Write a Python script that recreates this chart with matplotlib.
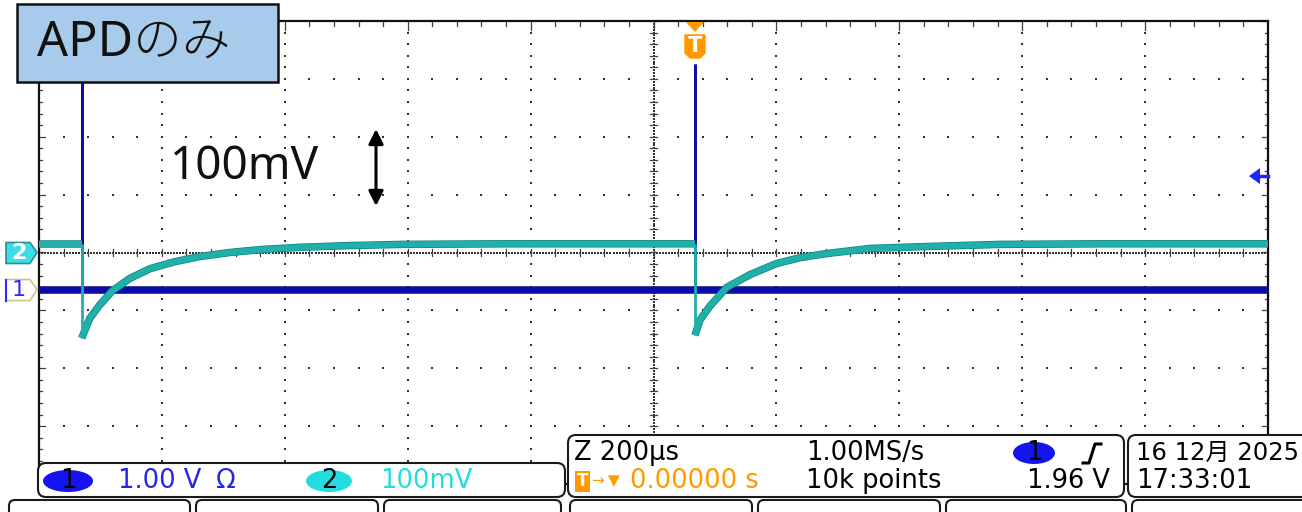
import numpy as np
import matplotlib
matplotlib.use("Agg")
import matplotlib.pyplot as plt
from matplotlib.patches import Rectangle, FancyBboxPatch, Polygon, Ellipse
import matplotlib.patheffects as pe

plt.rcParams['font.family'] = ['DejaVu Sans', 'Noto Sans CJK JP']

# ---------------- data ----------------
# time axis in microseconds (200 us/div), trigger at t = 0
screen_t_start = -1067.5
screen_t_end = 932.5
time_per_div = 200

# channel 2 (100 mV/div, position 0 div) -- values in mV
ch2_scale_mv = 100
ch2_pos_div = 0.0
ch2_base_mv = 15
ch2_ev1_t = [-998, -985, -969, -948, -920, -887, -847, -806, -757, -708, -643, -562, -477, -314]
ch2_ev1_mv = [-148, -114, -91, -66, -45, -28, -16, -7, 0, 5, 9, 12, 14, 15]
ch2_ev2_t = [0, 8, 24, 52, 90, 133, 171, 213, 285, 366, 496, 659]
ch2_ev2_mv = [-143, -117, -93, -60, -38, -19, -9, -2, 7, 10, 14, 15]

# channel 1 (1.00 V/div, position -0.64 div) -- values in V
ch1_scale_v = 1.0
ch1_pos_div = -0.64
ch1_t = [-1068, -998, -998, -998, 0, 0, 0, 933]
ch1_v = [0, 0, 3.9, 0, 0, 3.9, 0, 0]
trig_level_v = 1.96

# status texts
label_text = "APDのみ"
scale_text = "100mV"
ch1_text = "1.00 V"
ch2_text = "100mV"
timebase_text = "Z 200µs"
rate_text = "1.00MS/s"
delay_text = "0.00000 s"
points_text = "10k points"
trig_text = "1.96 V"
date_text = "16 12月 2025"
clock_text = "17:33:01"

# ---------------- figure ----------------
W, H = 1302, 512
fig = plt.figure(figsize=(W / 100, H / 100), dpi=100)
gl, gr, gt, gb = 39, 1268, 21, 484
ax = fig.add_axes([gl / W, 1 - gb / H, (gr - gl) / W, (gb - gt) / H])
ax.set_xlim(screen_t_start, screen_t_end)
ax.set_ylim(-4, 4)
ax.set_xticks([]); ax.set_yticks([])
for s in ax.spines.values():
    s.set_linewidth(1.6); s.set_color('#111111')

# ---------------- graticule ----------------
dot_kw = dict(ls='none', marker='s', ms=1.7, mew=0, color='#333333', zorder=1)
X0, X1 = screen_t_start, screen_t_end
xd = (X1 - X0) / 10
for k in range(1, 10):
    if k == 5:
        continue
    xm = X0 + k * xd
    ys = np.arange(-4, 4.001, 0.2)
    ax.plot(np.full_like(ys, xm), ys, **dot_kw)
for k in range(-3, 4):
    if k == 0:
        continue
    xs = np.arange(X0, X1 + 0.1, xd / 5)
    ax.plot(xs, np.full_like(xs, k), **dot_kw)
# centre cross-hair
xc = X0 + 5 * xd
ys = np.arange(-4, 4.001, 0.05)
ax.plot(np.full_like(ys, xc), ys, **dot_kw)
xs = np.arange(X0, X1 + 0.1, xd / 40)
ax.plot(xs, np.zeros_like(xs), **dot_kw)
tick_kw = dict(color='#404040', lw=0.9, zorder=1)
for yv in np.arange(-4, 4.001, 0.2):
    ax.plot([xc - 5, xc + 5], [yv, yv], **tick_kw)
for xv in np.arange(X0, X1 + 0.1, xd / 5):
    ax.plot([xv, xv], [-0.06, 0.06], **tick_kw)
# edge ticks
for yv in np.arange(-4, 4.001, 0.2):
    L = 10 if abs(yv - round(yv)) < 1e-6 else 5
    ax.plot([X0, X0 + L], [yv, yv], **tick_kw)
    ax.plot([X1 - L, X1], [yv, yv], **tick_kw)
for xv in np.arange(X0, X1 + 0.1, xd / 5):
    L = 0.15 if abs(((xv - X0) / xd) - round((xv - X0) / xd)) < 1e-6 else 0.08
    ax.plot([xv, xv], [4 - L, 4], **tick_kw)
    ax.plot([xv, xv], [-4, -4 + L], **tick_kw)


def draw_trace(t, y, color, edge, lw_band, lw_thin, z):
    t = np.asarray(t, float); y = np.asarray(y, float)
    runs = []
    cur_t, cur_y = [t[0]], [y[0]]
    for i in range(1, len(t)):
        if t[i] == t[i - 1]:
            ax.plot([t[i - 1], t[i]], [y[i - 1], y[i]], color=color, lw=lw_thin,
                    solid_capstyle='butt', zorder=z + 1)
            if len(cur_t) > 1:
                runs.append((cur_t, cur_y))
            cur_t, cur_y = [t[i]], [y[i]]
        else:
            cur_t.append(t[i]); cur_y.append(y[i])
    if len(cur_t) > 1:
        runs.append((cur_t, cur_y))
    for rt, ry in runs:
        ax.plot(rt, ry, color=color, lw=lw_band, solid_capstyle='butt', zorder=z,
                path_effects=[pe.Stroke(linewidth=lw_band + 1.0, foreground=edge), pe.Normal()])


ch1_div = np.asarray(ch1_v) / ch1_scale_v + ch1_pos_div
ch2_t = [screen_t_start, ch2_ev1_t[0]] + ch2_ev1_t + [ch2_ev2_t[0]] + ch2_ev2_t + [screen_t_end]
ch2_mv = [ch2_base_mv, ch2_base_mv] + ch2_ev1_mv + [ch2_base_mv] + ch2_ev2_mv + [ch2_base_mv]
ch2_div = np.asarray(ch2_mv) / ch2_scale_mv + ch2_pos_div

draw_trace(ch1_t, ch1_div, '#0c0ca8', '#08087e', 4.4, 2.0, 3)
draw_trace(ch2_t, ch2_div, '#1fb0aa', '#12807b', 4.4, 2.0, 5)

# ---------------- overlay in pixel coordinates ----------------
ov = fig.add_axes([0, 0, 1, 1])
ov.set_xlim(0, W); ov.set_ylim(H, 0)
ov.axis('off'); ov.patch.set_alpha(0)


def to_px(x, y):
    dx, dy = ax.transData.transform((x, y))
    return dx, H - dy


big_font = ['Noto Sans', 'Noto Sans CJK JP']
# label box
ov.add_patch(Rectangle((17, 4), 261, 78, fc='#a9cbeb', ec='#111111', lw=1.8, zorder=10))
ov.text(37, 44, label_text, fontsize=35, family=big_font, fontweight='light',
        va='center', ha='left', color='#111111', zorder=11)
ov.text(170, 167, scale_text, fontsize=33, family=big_font, fontweight='light',
        va='center', ha='left', color='#111111', zorder=11)
ov.annotate('', xy=(376, 129), xytext=(376, 206),
            arrowprops=dict(arrowstyle='<|-|>', lw=2.2, color='black', mutation_scale=22,
                            shrinkA=0, shrinkB=0))

# trigger marker
tx, _ = to_px(0, 0)
ov.add_patch(Polygon([(tx - 9, 22), (tx + 9, 22), (tx, 32)], closed=True, fc='#ff9900', ec='none', zorder=10))
ov.add_patch(Polygon([(tx - 10, 35), (tx + 10, 35), (tx + 10, 53), (tx + 5, 58), (tx - 5, 58), (tx - 10, 53)],
                     closed=True, fc='#ff9900', ec='#ff9900', lw=1, zorder=10))
ov.text(tx, 46.5, 'T', fontsize=15, fontweight='bold', color='white', ha='center', va='center', zorder=11)

# channel markers at left
_, y2 = to_px(0, ch2_pos_div)
ov.add_patch(Polygon([(6, y2 - 10), (30, y2 - 10), (37, y2), (30, y2 + 11), (6, y2 + 11)], closed=True,
                     fc='#3ddde8', ec='#2a8f8f', lw=1.2, zorder=10))
ov.text(19, y2 + 0.5, '2', fontsize=16, fontweight='bold', color='white', ha='center', va='center', zorder=11)
_, y1 = to_px(0, ch1_pos_div)
ov.add_patch(Polygon([(6, y1 - 10), (30, y1 - 10), (37, y1), (30, y1 + 11), (6, y1 + 11)], closed=True,
                     fc='white', ec='#c8c67c', lw=1.2, zorder=10))
ov.plot([6, 6], [y1 - 10, y1 + 11], color='#2a2aff', lw=1.5, zorder=11)
ov.text(19, y1 + 0.5, '1', fontsize=16, color='#2a2aff', ha='center', va='center', zorder=11)

# trigger level arrow at right
_, yt = to_px(0, trig_level_v / ch1_scale_v + ch1_pos_div)
ov.add_patch(Polygon([(1249, yt), (1260, yt - 8), (1260, yt + 8)], closed=True, fc='#2222ff', ec='none', zorder=10))
ov.plot([1259, 1268], [yt, yt], color='#2222ff', lw=2.5, zorder=10)

# status boxes
def rbox(x, y, w, h, r=8):
    ov.add_patch(FancyBboxPatch((x, y), w, h, boxstyle=f"round,pad=0,rounding_size={r}",
                                fc='white', ec='#1a1a1a', lw=1.5, zorder=12))

rbox(38, 463, 527, 34)
rbox(568, 435, 556, 62)
rbox(1128, 435, 200, 62)
for x0, x1 in [(9, 190), (196, 378), (384, 561), (570, 752), (758, 940), (946, 1126), (1132, 1330)]:
    rbox(x0, 500, x1 - x0, 30, r=6)

fs = 18.5
txt = dict(fontsize=fs, va='center', ha='left', zorder=13)
ov.add_patch(Ellipse((68, 481), 50, 22, fc='#1414f0', ec='none', zorder=13))
ov.text(68, 481, '1', fontsize=fs, ha='center', va='center', color='black', zorder=14)
ov.text(118, 481, ch1_text, color='#2424ee', **txt)
ov.text(216, 481, 'Ω', color='#2424ee', **txt)
ov.add_patch(Ellipse((329, 481), 46, 22, fc='#22dddd', ec='none', zorder=13))
ov.text(329, 481, '2', fontsize=fs, ha='center', va='center', color='black', zorder=14)
ov.text(380, 481, ch2_text, color='#22dddd', **txt)

ov.text(574, 453, timebase_text, color='black', **txt)
ov.text(806, 453, rate_text, color='black', **txt)
ov.add_patch(Ellipse((1034, 453), 42, 22, fc='#1414f0', ec='none', zorder=13))
ov.text(1034, 453, '1', fontsize=fs, ha='center', va='center', color='black', zorder=14)
ov.plot([1083, 1089, 1095, 1101], [463, 463, 444, 444], color='black', lw=2.2, zorder=13)

ov.add_patch(Rectangle((575, 471), 15, 21, fc='#ff9900', ec='none', zorder=13))
ov.text(582.5, 481.5, 'T', fontsize=12, fontweight='bold', color='white', ha='center', va='center', zorder=14)
ov.text(591, 481, '→', fontsize=11, color='#ff9900', ha='left', va='center', zorder=13)
ov.text(608, 481, '▼', fontsize=11, color='#ff9900', ha='left', va='center', zorder=13)
ov.text(630, 481, delay_text, color='#ff9900', **txt)
ov.text(806, 481, points_text, color='black', **txt)
ov.text(1110, 481, trig_text, fontsize=fs, va='center', ha='right', color='black', zorder=13)
ov.text(1136, 453, date_text, fontsize=17.5, va='center', ha='left', color='black', zorder=13)
ov.text(1136, 481, clock_text, color='black', **txt)

fig.savefig('out.png', dpi=100)
